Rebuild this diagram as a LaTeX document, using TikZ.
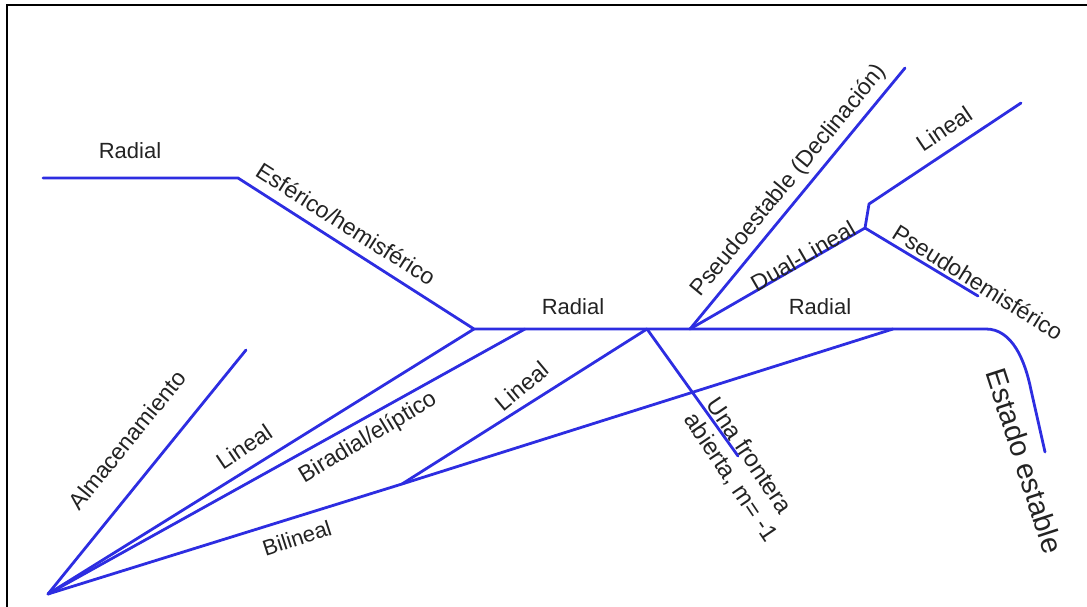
\documentclass[tikz,border=0pt]{standalone}
\usepackage{fontspec}
\setmainfont{Liberation Sans}
\definecolor{lineblue}{RGB}{45,45,225}
\definecolor{txt}{RGB}{35,35,35}
\begin{document}
\begin{tikzpicture}[x=1pt,y=-1pt,
  branch/.style={draw=lineblue,line width=2.8pt,line join=round,line cap=round},
  lbl/.style={font=\fontsize{23}{25}\selectfont,text=txt,inner sep=0pt},
  hlbl/.style={font=\fontsize{22}{24}\selectfont,text=txt,inner sep=0pt},
  frame/.style={draw=black,line width=2pt}]
\useasboundingbox (0,0) rectangle (1087,607);
\draw[frame] (7,1100) -- (7,5) -- (1200,5);
% points
\coordinate (O) at (48,594);
\coordinate (T0) at (43,178);
\coordinate (T1) at (238,178);
\coordinate (J1) at (474,329);
\coordinate (J2) at (525,329);
\coordinate (J3) at (647,329);
\coordinate (J4) at (690,329);
\coordinate (J5) at (893,329);
\coordinate (H) at (986,329);
\coordinate (SE) at (1045,452);
\coordinate (B) at (402,484);
\coordinate (A) at (246,350);
\coordinate (F) at (738,456);
\coordinate (P) at (905,68);
\coordinate (D) at (865,228);
\coordinate (D2) at (869,204);
\coordinate (L) at (1021,103);
\coordinate (PH) at (978,296);
% lines
\draw[branch] (T0) -- (T1) -- (J1) -- (H) .. controls (1012,329) and (1025,360) .. (1031,390) -- (SE);
\draw[branch] (O) -- (A);
\draw[branch] (O) -- (J1);
\draw[branch] (O) -- (J2);
\draw[branch] (O) -- (B) -- (J5);
\draw[branch] (B) -- (J3);
\draw[branch] (J3) -- (F);
\draw[branch] (J4) -- (P);
\draw[branch] (J4) -- (D) -- (D2) -- (L);
\draw[branch] (D) -- (PH);
% labels
\node[hlbl] (rt) at (130,151) {Radial};
\node[lbl,rotate=-32.5] (esf) at (346,224) {Esférico/hemisférico};
\node[hlbl] (rm) at (573,307) {Radial};
\node[hlbl] (rr) at (820,307) {Radial};
\node[lbl,rotate=50.5] (ps) at (789,181) {Pseudoestable (Declinación)};
\node[lbl,rotate=34] (li1) at (944,129) {Lineal};
\node[lbl,rotate=30] (dl) at (803,256) {Dual-Lineal};
\node[lbl,rotate=-32] (phe) at (978,282) {Pseudohemisférico};
\node[lbl,rotate=-72,font=\fontsize{29}{31}\selectfont] (est) at (1025,461) {Estado estable};
\node[lbl,rotate=-56,align=left,font=\fontsize{24}{27}\selectfont] (una) at (742,470) {Una frontera\\abierta, m= -1};
\node[lbl,rotate=51] (alm) at (127,440) {Almacenamiento};
\node[lbl,rotate=34] (li2) at (244,447) {Lineal};
\node[lbl,rotate=31] (bir) at (368,438) {Biradial/elíptico};
\node[lbl,rotate=40] (li3) at (522,386) {Lineal};
\node[lbl,rotate=18,font=\fontsize{22}{24}\selectfont] (bil) at (297,538) {Bilineal};
\end{tikzpicture}
\end{document}
